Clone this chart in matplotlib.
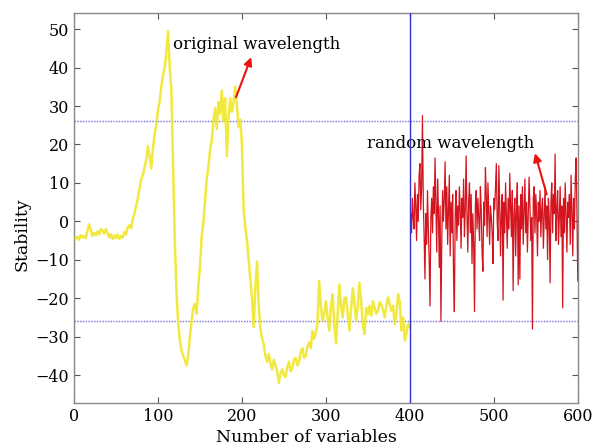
import numpy as np
import matplotlib
matplotlib.use("Agg")
import matplotlib.pyplot as plt

# Original wavelength stability (x = 2, 4, ..., 400)
orig_x = list(range(2, 401, 2))
orig_stability = [
    -4.5, -4.0, -4.8, -3.6, -4.2, -3.8, -4.4, -2.5, -0.8, -2.2,
    -3.8, -3.0, -3.6, -2.6, -3.4, -2.0, -2.4, -3.2, -2.0, -3.0,
    -4.2, -3.4, -4.6, -3.6, -4.4, -3.4, -4.6, -3.8, -4.2, -2.8,
    -3.4, -1.6, -1.0, -1.8, 0.5, 2.0, 4.0, 6.0, 8.5, 11.0,
    12.0, 14.0, 16.0, 19.5, 17.0, 13.8, 19.0, 22.5, 25.0, 29.0,
    31.0, 35.0, 38.0, 40.0, 44.0, 49.5, 40.0, 34.0, 14.0, -5.0,
    -18.0, -26.0, -31.0, -33.5, -35.0, -36.0, -37.5, -35.0, -30.0, -26.0,
    -22.5, -21.5, -24.0, -17.0, -12.0, -4.0, -0.5, 5.0, 11.0, 14.0,
    18.5, 21.0, 26.0, 29.5, 24.0, 31.0, 28.0, 34.0, 26.0, 32.0,
    17.0, 27.0, 32.0, 28.5, 31.0, 35.0, 30.0, 24.5, 26.5, 20.0,
    3.0, -1.5, -5.0, -10.0, -15.0, -20.0, -27.5, -17.0, -10.5, -22.0,
    -28.0, -30.5, -32.0, -35.0, -36.5, -34.5, -37.0, -38.5, -36.0, -37.5,
    -39.0, -42.0, -39.5, -38.5, -40.0, -40.5, -38.0, -36.5, -39.0, -38.0,
    -36.0, -35.5, -37.5, -36.5, -34.0, -33.0, -35.5, -35.0, -32.5, -31.5,
    -33.0, -28.5, -30.5, -29.0, -26.5, -15.5, -22.0, -26.0, -24.0, -20.8,
    -25.0, -28.4, -22.0, -19.0, -27.0, -31.8, -24.0, -16.4, -22.0, -25.0,
    -20.0, -19.8, -24.0, -28.4, -23.0, -17.4, -21.0, -25.9, -22.0, -16.0,
    -20.8, -27.0, -29.3, -22.5, -24.2, -22.0, -24.5, -20.8, -22.5, -24.0,
    -23.3, -21.0, -21.7, -23.0, -25.0, -22.0, -19.8, -21.5, -23.3, -22.0,
    -26.7, -24.0, -19.0, -21.0, -28.4, -25.0, -31.0, -29.0, -26.7, -27.5,
]

# Random wavelength stability (x = 401 ... 600)
rand_x = list(range(401, 601))
rand_stability = [
    2, -3, 6, 1, -2, 10, 4, -5, 7, 0,
    12, 15, 3, 9, 27.5, 5, -4, -15, 2, -6,
    8, -2, -10, -22, 1, 6, -3, 9, 2, 16.5,
    5, -8, 11, 3, -12, 4, -26, -5, 8, 0,
    6, 15.5, -2, 9, -6, 3, 12, -9, 5, -3,
    7, -14, -23.5, 2, 8, -5, 4, -1, 9, 3,
    -7, 6, 1, 11, -4, 3, 17, 2, -8, 5,
    10, -3, 7, -11, 2, -6, -23.5, 4, 8, -2,
    6, 1, -5, 9, 3, -8, -13, 5, -1, 14,
    7, -4, 10, 2, -6, 4, 1, -3, -11, 6,
    3, 9, 15, 0, -5, 14.5, 4, -9, 2, 7,
    -20.5, 5, -3, 10, 1, -7, 6, -2, 12.5, 3,
    -4, 8, -18, 2, 6, -9, 3, 10, -16.5, 4,
    -15, 7, -2, 9, -6, 3, 11, -3, 5, -8,
    2, 11.5, 4, -5, 1, -28, 6, 9, -3, 7,
    2, -9, 5, 0, 8, -4, 3, 6, -7, 1,
    9, -2, 4, -10, 6, 1, -16, 5, 10, -3,
    7, 2, 17.5, -5, 3, 8, -6, 1, 9, -4,
    4, -22.5, 6, -3, 10, 2, -8, 5, 1, 7,
    -6, 12, 3, -9, 6, -2, 11, 16.5, 2, -15.5,
]

threshold = 26
split_x = 400
x_ticks = [0, 100, 200, 300, 400, 500, 600]
y_ticks = [-40, -30, -20, -10, 0, 10, 20, 30, 40, 50]

plt.rcParams['font.family'] = ['DejaVu Serif']

fig = plt.figure(figsize=(5.92, 4.47), dpi=100)
ax = fig.add_axes([0.125, 0.098, 0.851, 0.873])

ax.plot(orig_x, orig_stability, color='#f0e61e', lw=1.8, alpha=0.85, zorder=3)
ax.plot(rand_x, rand_stability, color='#d4141e', lw=0.9, zorder=3)
ax.axhline(threshold, color='#7070e0', lw=1.0, ls=(0, (1, 1)), zorder=2)
ax.axhline(-threshold, color='#7070e0', lw=1.0, ls=(0, (1, 1)), zorder=2)
ax.axvline(split_x, color='#3030d0', lw=1.0, zorder=4)

ax.set_xlim(0, 600)
ax.set_ylim(-47.3, 54.2)
ax.set_xticks(x_ticks)
ax.set_yticks(y_ticks)
ax.set_yticklabels([str(v).replace('-', '\u2212') for v in y_ticks])
ax.tick_params(direction='in', top=True, right=True, length=4, width=0.8,
               color='#555555', labelsize=11.5)
for s in ax.spines.values():
    s.set_color('#888888')
    s.set_linewidth(1.0)

ax.annotate('', xy=(211, 42.7), xytext=(193, 32.3),
            arrowprops=dict(arrowstyle='-|>', color='#ee1111', lw=1.5,
                            mutation_scale=12, shrinkA=0, shrinkB=0))
ax.text(118, 46, 'original wavelength', fontsize=12, va='center', ha='left')
ax.annotate('', xy=(549, 17.7), xytext=(563, 7),
            arrowprops=dict(arrowstyle='-|>', color='#ee1111', lw=1.5,
                            mutation_scale=12, shrinkA=0, shrinkB=0))
ax.text(349, 20.3, 'random wavelength', fontsize=12, va='center', ha='left')

fig.text(0.517, 0.022, 'Number of variables', fontsize=12.5, ha='center', va='center')
fig.text(0.037, 0.476, 'Stability', fontsize=12.5, ha='center', va='center', rotation=90)

fig.savefig('out.png', dpi=100)
